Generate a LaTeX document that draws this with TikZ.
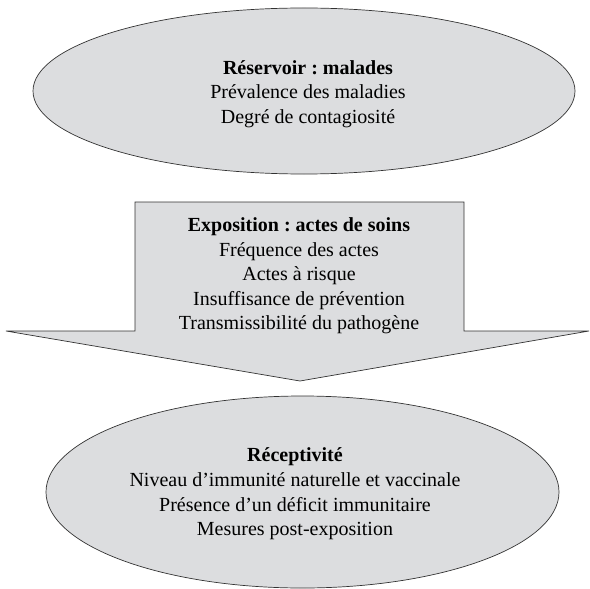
\documentclass[tikz,border=0pt]{standalone}
\usepackage{fontspec}
\setmainfont{Liberation Serif}
\usetikzlibrary{shapes.geometric}
\frenchspacing
\definecolor{shapefill}{RGB}{220,221,223}
\definecolor{shapeline}{RGB}{50,50,50}
\tikzset{
  blob/.style={ellipse, draw=shapeline, fill=shapefill, line width=0.7pt, inner sep=0pt},
  label/.style={align=center, font=\fontsize{20bp}{24.6bp}\selectfont\frenchspacing, text=black, inner sep=0pt},
  arrowshape/.style={draw=shapeline, fill=shapefill, line width=0.7pt, line join=miter}
}
\begin{document}
\begin{tikzpicture}[x=1bp,y=-1bp]
\useasboundingbox (0,0) rectangle (590,589);
% top ellipse
\node[blob, minimum width=542bp, minimum height=166bp] (res) at (304,91) {};
\node[label] (restext) at (308,94) {\textbf{Réservoir : malades}\\Prévalence des maladies\\Degré de contagiosité};
% arrow
\draw[arrowshape] (135,202) -- (464,202) -- (464,331) -- (589,331) -- (300,381) -- (6,331) -- (135,331) -- cycle;
\node[label] (exptext) at (299,276) {\textbf{Exposition : actes de soins}\\Fréquence des actes\\Actes à risque\\Insuffisance de prévention\\Transmissibilité du pathogène};
% bottom ellipse
\node[blob, minimum width=513bp, minimum height=192bp] (rec) at (302.5,492) {};
\node[label] (rectext) at (295,494) {\textbf{Réceptivité}\\Niveau d’immunité naturelle et vaccinale\\Présence d’un déficit immunitaire\\Mesures post-exposition};
\end{tikzpicture}
\end{document}
